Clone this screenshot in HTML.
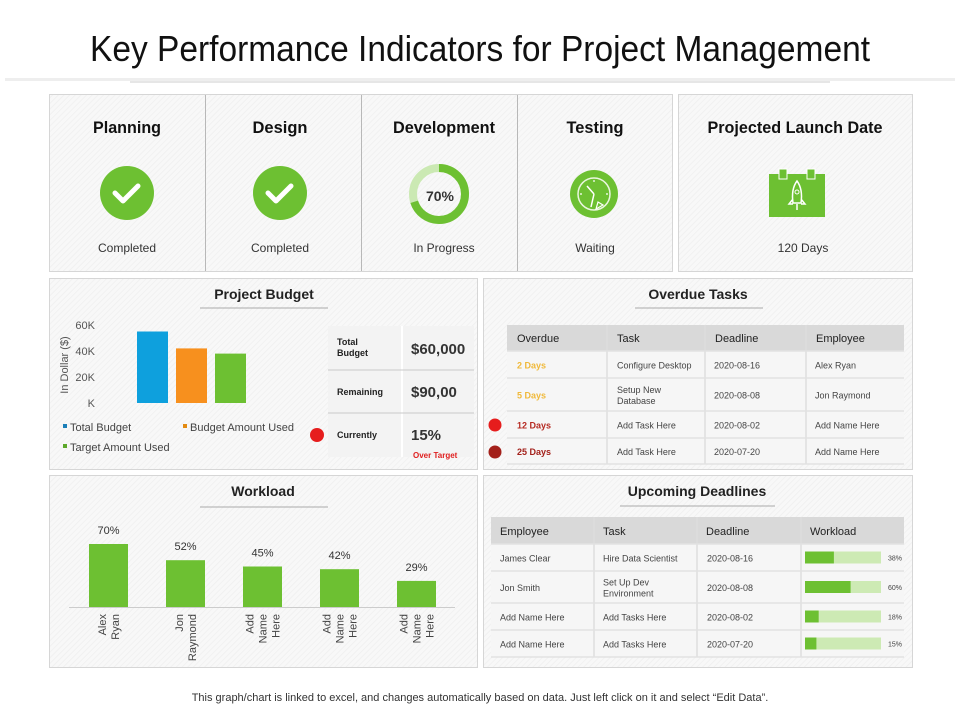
<!DOCTYPE html>
<html><head><meta charset="utf-8">
<style>
html,body{margin:0;padding:0;background:#fff;}
svg{display:block;font-family:"Liberation Sans",Arial,sans-serif;}
</style></head>
<body>
<svg id="root" width="960" height="720" viewBox="0 0 960 720" xmlns="http://www.w3.org/2000/svg">
<defs>
<pattern id="stripes" width="4" height="4" patternUnits="userSpaceOnUse" patternTransform="rotate(45)">
<rect width="4" height="4" fill="#f8f8f8"/><line x1="0" y1="0" x2="0" y2="4" stroke="#efefef" stroke-width="1.5"/>
</pattern>
</defs>
<text x="480" y="61" text-anchor="middle" font-size="36" textLength="780" lengthAdjust="spacingAndGlyphs" fill="#111">Key Performance Indicators for Project Management</text>
<rect x="5" y="78" width="950" height="3" fill="#eeeeee"/>
<rect x="130" y="81" width="700" height="2" fill="#e6e6e6"/>

<g>
<rect x="49.5" y="94.5" width="623" height="177" fill="url(#stripes)" stroke="#d6d6d6"/>
<line x1="205.5" y1="95" x2="205.5" y2="271" stroke="#b8b8b8"/>
<line x1="361.5" y1="95" x2="361.5" y2="271" stroke="#b8b8b8"/>
<line x1="517.5" y1="95" x2="517.5" y2="271" stroke="#b8b8b8"/>
</g>
<rect x="678.5" y="94.5" width="234" height="177" fill="url(#stripes)" stroke="#d6d6d6"/>
<g font-weight="bold" font-size="17" fill="#111" text-anchor="middle">
<text x="127" y="133" textLength="68" lengthAdjust="spacingAndGlyphs">Planning</text>
<text x="280" y="133" textLength="55" lengthAdjust="spacingAndGlyphs">Design</text>
<text x="444" y="133" textLength="102" lengthAdjust="spacingAndGlyphs">Development</text>
<text x="595" y="133" textLength="57" lengthAdjust="spacingAndGlyphs">Testing</text>
<text x="795" y="133" textLength="175" lengthAdjust="spacingAndGlyphs">Projected Launch Date</text>
</g>
<g font-size="12" fill="#333" text-anchor="middle">
<text x="127" y="252">Completed</text>
<text x="280" y="252">Completed</text>
<text x="444" y="252">In Progress</text>
<text x="595" y="252">Waiting</text>
<text x="803" y="252">120 Days</text>
</g>
<g><circle cx="127" cy="193" r="27" fill="#6dc032"/><path d="M115 193 l8 8 l15 -15" fill="none" stroke="#fff" stroke-width="5" stroke-linecap="round" stroke-linejoin="round"/></g>
<g><circle cx="280" cy="193" r="27" fill="#6dc032"/><path d="M268 193 l8 8 l15 -15" fill="none" stroke="#fff" stroke-width="5" stroke-linecap="round" stroke-linejoin="round"/></g>
<g>
<circle cx="439" cy="194" r="26" fill="none" stroke="#cbe9b3" stroke-width="8"/>
<circle cx="439" cy="194" r="26" fill="none" stroke="#6dc032" stroke-width="8" stroke-dasharray="114.4 200" transform="rotate(-90 439 194)"/>
<text x="440" y="201" text-anchor="middle" font-size="14" font-weight="bold" fill="#333">70%</text>
</g>
<g>
<circle cx="594" cy="194" r="24" fill="#6dc032"/>
<circle cx="594" cy="194" r="16" fill="none" stroke="#eaf6df" stroke-width="1.5"/>
<path d="M594 194 l-7 -8 M594 194 l-3 13" stroke="#fff" stroke-width="1.5"/>
<path d="M594 180 v2 M608 194 h-2 M580 194 h2" stroke="#fff" stroke-width="1.2"/>
<path d="M603 205 l-7 4 l2 -7 z" fill="#6dc032" stroke="#fff" stroke-width="1.2"/>
</g>
<g>
<rect x="769" y="174" width="56" height="43" fill="#6dc032"/>
<rect x="779" y="169" width="8" height="10" fill="#6dc032" stroke="#fff" stroke-width="1"/>
<rect x="807" y="169" width="8" height="10" fill="#6dc032" stroke="#fff" stroke-width="1"/>
<path d="M797 181 q6 8 4 22 h-8 q-2 -14 4 -22 z M793 199 l-4 5 h4 M801 199 l4 5 h-4 M797 204 v6" fill="none" stroke="#fff" stroke-width="1.5"/>
<circle cx="797" cy="192" r="2" fill="none" stroke="#fff"/>
</g>

<rect x="49.5" y="278.5" width="428" height="191" fill="url(#stripes)" stroke="#d6d6d6"/>
<text x="264" y="299" text-anchor="middle" font-size="14" font-weight="bold" fill="#222">Project Budget</text>
<line x1="200" y1="308" x2="328" y2="308" stroke="#aaa"/>
<text transform="translate(68 365) rotate(-90)" text-anchor="middle" font-size="11" fill="#555">In Dollar ($)</text>
<g id="budgetChart"></g>
<g font-size="11" fill="#444">
<rect x="63" y="424" width="4" height="4" fill="#1b7fb8"/><text x="70" y="431">Total Budget</text>
<rect x="183" y="424" width="4" height="4" fill="#e38b12"/><text x="190" y="431">Budget Amount Used</text>
<rect x="63" y="444" width="4" height="4" fill="#5ca82a"/><text x="70" y="451">Target Amount Used</text>
</g>
<g>
<rect x="328" y="326" width="146" height="131" fill="#f3f3f3"/>
<line x1="402" y1="326" x2="402" y2="457" stroke="#fff" stroke-width="2"/>
<line x1="328" y1="370" x2="474" y2="370" stroke="#c8c8c8"/>
<line x1="328" y1="413" x2="474" y2="413" stroke="#c8c8c8"/>
<g font-size="9" fill="#222" font-weight="bold">
<text x="337" y="345">Total</text><text x="337" y="356">Budget</text>
<text x="337" y="395">Remaining</text>
<text x="337" y="438">Currently</text>
</g>
<g font-size="15" font-weight="bold" fill="#333">
<text x="411" y="354">$60,000</text>
<text x="411" y="397">$90,00</text>
<text x="411" y="440">15%</text>
</g>
<text x="413" y="458" font-size="8" fill="#e02020" font-weight="bold">Over Target</text>
</g>
<circle cx="317" cy="435" r="7" fill="#e61d1d"/>

<rect x="483.5" y="278.5" width="429" height="191" fill="url(#stripes)" stroke="#d6d6d6"/>
<text x="698" y="299" text-anchor="middle" font-size="14" font-weight="bold" fill="#222">Overdue Tasks</text>
<line x1="635" y1="308" x2="763" y2="308" stroke="#aaa"/>
<g id="overdueTable"></g>
<circle cx="495" cy="425" r="6.5" fill="#e61d1d"/>
<circle cx="495" cy="452" r="6.5" fill="#a3201a"/>

<rect x="49.5" y="475.5" width="428" height="192" fill="url(#stripes)" stroke="#d6d6d6"/>
<text x="263" y="496" text-anchor="middle" font-size="14" font-weight="bold" fill="#222">Workload</text>
<line x1="200" y1="507" x2="328" y2="507" stroke="#aaa"/>
<g id="workloadChart"></g>

<rect x="483.5" y="475.5" width="429" height="192" fill="url(#stripes)" stroke="#d6d6d6"/>
<text x="697" y="496" text-anchor="middle" font-size="14" font-weight="bold" fill="#222">Upcoming Deadlines</text>
<line x1="620" y1="506" x2="775" y2="506" stroke="#aaa"/>
<g id="upcomingTable"></g>

<text x="480" y="701" text-anchor="middle" font-size="11" fill="#333">This graph/chart is linked to excel, and changes automatically based on data. Just left click on it and select “Edit Data”.</text>
</svg>
<script>
const NS="http://www.w3.org/2000/svg";
const budgetCategories=["Total Budget","Budget Amount Used","Target Amount Used"];
const budgetValues=[55,42,38];
const budgetTicks=[0,20,40,60];
const budgetTickLabels=["K","20K","40K","60K"];
const budgetColors=["#0ea0dd","#f7901e","#6dc032"];
const workloadNames=[["Alex","Ryan"],["Jon","Raymond"],["Add","Name","Here"],["Add","Name","Here"],["Add","Name","Here"]];
const workloadValues=[70,52,45,42,29];
const overdueHeaders=["Overdue","Task","Deadline","Employee"];
const overdueDays=["2 Days","5 Days","12 Days","25 Days"];
const overdueTasks=[["Configure Desktop"],["Setup New","Database"],["Add Task Here"],["Add Task Here"]];
const overdueDeadlines=["2020-08-16","2020-08-08","2020-08-02","2020-07-20"];
const overdueEmployees=["Alex Ryan","Jon Raymond","Add Name Here","Add Name Here"];
const upcomingHeaders=["Employee","Task","Deadline","Workload"];
const upcomingEmployees=["James Clear","Jon Smith","Add Name Here","Add Name Here"];
const upcomingTasks=[["Hire Data Scientist"],["Set Up Dev","Environment"],["Add Tasks Here"],["Add Tasks Here"]];
const upcomingDeadlines=["2020-08-16","2020-08-08","2020-08-02","2020-07-20"];
const upcomingWorkload=[38,60,18,15];

function mk(tag,attrs,parent,txt){const e=document.createElementNS(NS,tag);for(const k in attrs)e.setAttribute(k,attrs[k]);if(txt!==undefined)e.textContent=txt;parent.appendChild(e);return e;}

const bg=document.getElementById('budgetChart');
const bY=v=>403-(v/60)*78;
budgetTicks.forEach((t,i)=>{const e=mk('text',{x:95,y:bY(t)+4,'text-anchor':'end','font-size':11,fill:'#555'},bg,budgetTickLabels[i]);

});
budgetValues.forEach((v,i)=>{const r=mk('rect',{x:137+i*39,y:bY(v),width:31,height:403-bY(v),fill:budgetColors[i]},bg);

});

const wg=document.getElementById('workloadChart');
const wBase=607, wScale=0.9;
const wl=mk('line',{x1:69,y1:wBase+0.5,x2:455,y2:wBase+0.5,stroke:'#ccc'},wg);


workloadValues.forEach((v,i)=>{const cx=108.5+i*77;const h=v*wScale;
const r=mk('rect',{x:cx-19.5,y:wBase-h,width:39,height:h,fill:'#6dc032'},wg);


const t=mk('text',{x:cx,y:wBase-h-10,'text-anchor':'middle','font-size':11,fill:'#333'},wg,v+'%');


const lines=workloadNames[i];const n=lines.length;
lines.forEach((s,j)=>{const x=cx+(j-(n-1)/2)*13+4;
const l=mk('text',{transform:`translate(${x} 614) rotate(-90)`,'text-anchor':'end','font-size':11,fill:'#444'},wg,s);

});
});

function table(g,cols,headerY,headerH,rowYs){
mk('rect',{x:cols[0],y:headerY,width:cols[cols.length-1]-cols[0],height:headerH,fill:'#d9d9d9'},g);
mk('rect',{x:cols[0],y:headerY+headerH,width:cols[cols.length-1]-cols[0],height:rowYs[rowYs.length-1]-headerY-headerH,fill:'#f6f6f6'},g);
for(let i=1;i<cols.length-1;i++)mk('line',{x1:cols[i],y1:headerY,x2:cols[i],y2:rowYs[rowYs.length-1],stroke:'#ddd','stroke-width':1.5},g);
for(let i=0;i<rowYs.length;i++)mk('line',{x1:cols[0],y1:rowYs[i],x2:cols[cols.length-1],y2:rowYs[i],stroke:'#e2e2e2','stroke-width':1.5},g);
}
function cellText(g,x,yc,lines,attrs,name){const n=lines.length;lines.forEach((s,j)=>{const a=Object.assign({x:x,y:yc+4+(j-(n-1)/2)*11,'font-size':9,fill:'#444'},attrs);const e=mk('text',a,g,s);

});}

const og=document.getElementById('overdueTable');
const oc=[507,607,705,806,904];const oRows=[351,378,411,438,464];
table(og,oc,325,26,oRows);
overdueHeaders.forEach((h,i)=>{const e=mk('text',{x:oc[i]+10,y:342,'font-size':11,fill:'#222'},og,h);

});
const dayColors=['#f0b93a','#f0b93a','#b52a22','#a3201a'];
overdueDays.forEach((d,i)=>{const yc=(oRows[i]+oRows[i+1])/2;
cellText(og,517,yc,[d],{fill:dayColors[i],'font-weight':'bold'},'overdue-days');
cellText(og,617,yc,overdueTasks[i],{},'overdue-task');
cellText(og,714,yc,[overdueDeadlines[i]],{},'overdue-deadline');
cellText(og,815,yc,[overdueEmployees[i]],{},'overdue-employee');});

const ug=document.getElementById('upcomingTable');
const uc=[491,594,697,801,904];const uRows=[544,571,603,630,657];
table(ug,uc,517,27,uRows);
upcomingHeaders.forEach((h,i)=>{const e=mk('text',{x:uc[i]+9,y:535,'font-size':11,fill:'#222'},ug,h);

});
upcomingEmployees.forEach((d,i)=>{const yc=(uRows[i]+uRows[i+1])/2;
cellText(ug,500,yc,[d],{},'upcoming-employee');
cellText(ug,603,yc,upcomingTasks[i],{},'upcoming-task');
cellText(ug,707,yc,[upcomingDeadlines[i]],{},'upcoming-deadline');
const tr=mk('rect',{x:805,y:yc-6,width:76,height:12,fill:'#cdeab4'},ug);


const f=mk('rect',{x:805,y:yc-6,width:76*upcomingWorkload[i]/100,height:12,fill:'#6dc032'},ug);


const t=mk('text',{x:888,y:yc+3,'font-size':7,fill:'#444'},ug,upcomingWorkload[i]+'%');

});
</script>
</body></html>
